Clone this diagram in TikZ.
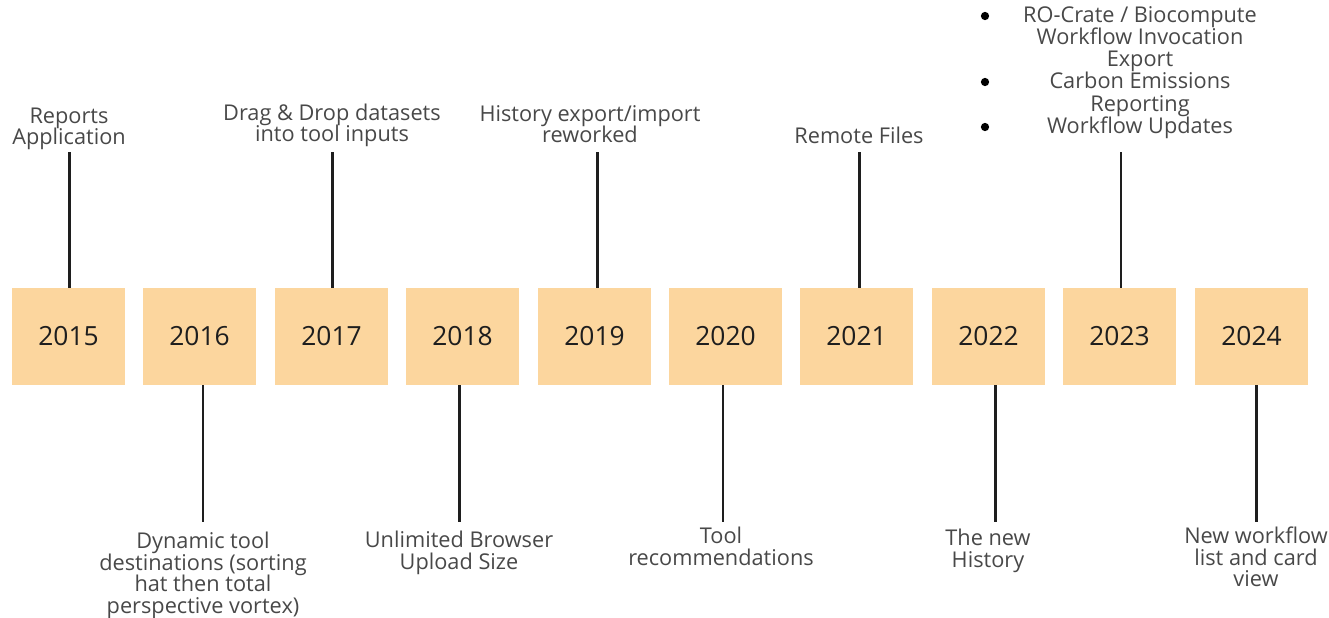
\documentclass[tikz,border=0pt]{standalone}
\usepackage{fontspec}
\setmainfont{Open Sans}
\definecolor{boxfill}{RGB}{252,214,158}
\definecolor{labgray}{RGB}{72,72,72}
\definecolor{linecol}{RGB}{30,30,30}
\newcommand{\mylabfont}{\fontsize{16.3}{16.1}\selectfont\lineskiplimit=-20pt\relax\lineskip=0pt\relax}
\newcommand{\mylistfont}{\fontsize{16.3}{16.7}\selectfont\lineskiplimit=-20pt\relax\lineskip=0pt\relax}
\begin{document}
\begin{tikzpicture}[x=0.75pt,y=-0.75pt,
  yearbox/.style={fill=boxfill,draw=none,minimum width=84.75pt,minimum height=72.75pt,inner sep=0pt,
    font=\fontsize{19.8}{21}\selectfont,text=linecol},
  lab/.style={align=center,inner sep=0pt,text=labgray,font=\mylabfont},
  conn/.style={draw=linecol,line width=2.2pt},
  bul/.style={circle,fill=black,inner sep=0pt,minimum size=6.2pt}]
\useasboundingbox (0,0) rectangle (1329,618);
\foreach \yr/\x in {2015/68.5,2016/199.5,2017/331.5,2018/462.5,2019/594.5,2020/725.5,2021/856.5,2022/988.5,2023/1119.5,2024/1251.5}
  \node[yearbox] (y\yr) at (\x,336.5) {\yr};
% top labels
\node[lab,anchor=south] (l15) at (69,150) {Reports\\Application};
\node[lab,anchor=south] (l17) at (332,147) {Drag \& Drop datasets\\into tool inputs};
\node[lab,anchor=south] (l19) at (590,143) {History export/import\\reworked};
\node[lab,anchor=south] (l21) at (859,144) {Remote Files};
\node[lab,anchor=south,font=\mylistfont] (l23) at (1140,139) {RO-Crate / Biocompute\\Workflow Invocation\\Export\\Carbon Emissions\\Reporting\\Workflow Updates};
\node[bul] (b1) at (985,16) {};
\node[bul] (b2) at (985,82) {};
\node[bul] (b3) at (985,127) {};
% bottom labels
\node[lab,anchor=north] (l16) at (203,532) {Dynamic tool\\destinations (sorting\\hat then total\\perspective vortex)};
\node[lab,anchor=north] (l18) at (459,531) {Unlimited Browser\\Upload Size};
\node[lab,anchor=north] (l20) at (721,527) {Tool\\recommendations};
\node[lab,anchor=north] (l22) at (988,529) {The new\\History};
\node[lab,anchor=north] (l24) at (1256,527) {New workflow\\list and card\\view};
% connectors
\foreach \yr/\dx in {2015/0.4,2017/0.4,2019/1.9,2021/1.9,2023/1.1}
  \draw[conn] ([xshift=\dx pt]y\yr.north) -- ++(0,-136);
\foreach \yr/\dx in {2016/2.6,2018/-2.6,2020/-1.9,2022/4.9,2024/3.4}
  \draw[conn] ([xshift=\dx pt]y\yr.south) -- ++(0,137);
\end{tikzpicture}
\end{document}
